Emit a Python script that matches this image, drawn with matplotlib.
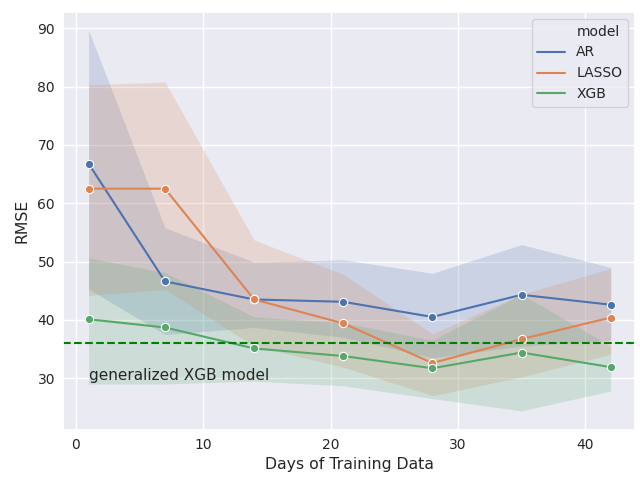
import matplotlib
matplotlib.use('Agg')
import matplotlib.pyplot as plt
import seaborn as sns
from matplotlib.lines import Line2D
from matplotlib.ticker import MultipleLocator

sns.set_theme(style='darkgrid')

days = [1, 7, 14, 21, 28, 35, 42]
models = ['AR', 'LASSO', 'XGB']

# mean RMSE and confidence band per model
ar_mean = [66.8, 46.6, 43.5, 43.1, 40.5, 44.3, 42.6]
ar_lo = [45.3, 37.5, 38.7, 37.0, 33.5, 35.5, 36.5]
ar_hi = [89.7, 55.8, 49.9, 50.3, 48.0, 52.9, 49.0]

lasso_mean = [62.5, 62.5, 43.5, 39.4, 32.6, 36.7, 40.4]
lasso_lo = [44.2, 45.2, 35.5, 31.9, 27.0, 30.2, 34.1]
lasso_hi = [80.3, 80.8, 53.7, 47.8, 37.6, 44.4, 48.8]

xgb_mean = [40.1, 38.7, 35.1, 33.8, 31.7, 34.4, 31.9]
xgb_lo = [29.0, 29.0, 29.5, 28.7, 26.5, 24.4, 27.8]
xgb_hi = [50.6, 48.1, 40.5, 39.5, 36.5, 44.4, 35.5]

general_xgb = 36.0

means = [ar_mean, lasso_mean, xgb_mean]
los = [ar_lo, lasso_lo, xgb_lo]
his = [ar_hi, lasso_hi, xgb_hi]
colors = sns.color_palette('deep')[:3]

fig = plt.figure(figsize=(6.4, 4.8), dpi=100)
ax = fig.add_axes([0.099, 0.104, 0.893, 0.871])

handles = [Line2D([], [], linestyle='none')]
labels = ['model']
for name, m, lo, hi, c in zip(models, means, los, his, colors):
    ax.fill_between(days, lo, hi, color=c, alpha=0.2, linewidth=0)
    ax.plot(days, m, color=c, marker='o', markersize=6,
            markeredgecolor='white', markeredgewidth=0.8, lw=1.5)
    handles.append(Line2D([], [], color=c, lw=1.5))
    labels.append(name)

ax.axhline(general_xgb, color='green', linestyle='--', lw=1.5)
ax.text(1, 30.5, 'generalized XGB model', fontsize=11, color='#262626',
        va='center')

ax.set_xlim(-0.98, 43.9)
ax.set_ylim(21.1, 92.8)
ax.xaxis.set_major_locator(MultipleLocator(10))
ax.set_xlabel('Days of Training Data', fontsize=11.3, labelpad=3)
ax.set_ylabel('RMSE', fontsize=11.3, labelpad=6)
ax.tick_params(labelsize=10, length=0, pad=6)

ax.legend(handles, labels, loc='upper right', fontsize=10,
          handlelength=2.0)

fig.savefig('out.png', dpi=100)
plt.close(fig)
